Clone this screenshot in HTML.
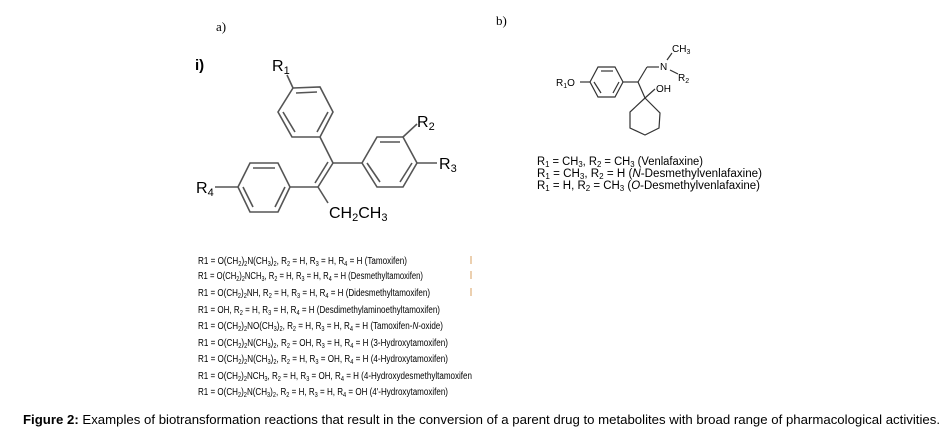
<!DOCTYPE html>
<html><head><meta charset="utf-8"><style>
html,body{margin:0;padding:0;background:#fff;}
svg{display:block;}
text{font-family:"Liberation Sans",Arial,sans-serif;fill:#000;}
</style></head><body>
<svg width="950" height="431" viewBox="0 0 950 431" xmlns="http://www.w3.org/2000/svg">
<text x="216" y="31" style="font-family:'Liberation Serif',serif" font-size="13">a)</text>
<text x="496" y="25" style="font-family:'Liberation Serif',serif" font-size="13">b)</text>
<text x="195" y="70" font-size="15" font-weight="bold">i)</text>

<g stroke="#555" stroke-width="1.6" fill="none">
<polygon points="293,88 320,87 333,112 320,137 292,137 278,112"/>
<line x1="296" y1="93" x2="317" y2="92"/><line x1="328" y1="112" x2="317" y2="132"/><line x1="295" y1="132" x2="283" y2="112"/>
<line x1="287" y1="75" x2="293" y2="88"/>
<line x1="320" y1="137" x2="333" y2="163"/>
<line x1="333" y1="163" x2="318" y2="187"/><line x1="328" y1="162" x2="315" y2="183"/>
<line x1="333" y1="163" x2="362" y2="163"/>
<polygon points="362,163 377,137 403,137 417,163 403,187 377,187"/>
<line x1="380" y1="142" x2="400" y2="142"/><line x1="412" y1="163" x2="400" y2="182"/><line x1="380" y1="182" x2="367" y2="163"/>
<line x1="403" y1="137" x2="417" y2="124"/>
<line x1="417" y1="163" x2="437" y2="163"/>
<line x1="318" y1="187" x2="290" y2="187"/>
<polygon points="238,187 250,163 278,163 290,187 278,212 250,212"/>
<line x1="253" y1="168" x2="275" y2="168"/><line x1="285" y1="187" x2="275" y2="207"/><line x1="253" y1="207" x2="243" y2="187"/>
<line x1="238" y1="187" x2="215" y2="187"/>
<line x1="318" y1="187" x2="328" y2="203"/>
</g>
<text x="272" y="71" font-size="16">R<tspan font-size="11" dy="3">1</tspan></text>
<text x="417" y="127" font-size="16">R<tspan font-size="11" dy="3">2</tspan></text>
<text x="439" y="169" font-size="16">R<tspan font-size="11" dy="3">3</tspan></text>
<text x="196" y="193" font-size="16">R<tspan font-size="11" dy="3">4</tspan></text>
<text x="329" y="218" font-size="16">CH<tspan font-size="11" dy="3">2</tspan><tspan dy="-3">CH</tspan><tspan font-size="11" dy="3">3</tspan></text>

<g stroke="#333" stroke-width="1.2" fill="none">
<polygon points="590,82 598,67 615,67 623,82 615,97 598,97"/>
<line x1="601" y1="71" x2="613" y2="71"/><line x1="619" y1="82" x2="613" y2="93"/><line x1="601" y1="93" x2="594" y2="82"/>
<line x1="580" y1="82" x2="590" y2="82"/>
<line x1="623" y1="82" x2="638" y2="82"/>
<line x1="638" y1="82" x2="647" y2="67"/><line x1="647" y1="67" x2="659" y2="67"/>
<line x1="667" y1="60" x2="672" y2="53"/>
<line x1="670" y1="70" x2="678" y2="74"/>
<line x1="638" y1="82" x2="645" y2="98"/>
<line x1="645" y1="98" x2="655" y2="89"/>
<polygon points="645,98 660,113 659,128 645,135 630,128 630,112"/>
</g>
<text x="672" y="52" font-size="10">CH<tspan font-size="7" dy="2">3</tspan></text>
<text x="660" y="70" font-size="10">N</text>
<text x="678" y="81" font-size="10">R<tspan font-size="7" dy="2">2</tspan></text>
<text x="556" y="86" font-size="10">R<tspan font-size="7" dy="2">1</tspan><tspan dy="-2">O</tspan></text>
<text x="656" y="92" font-size="10">OH</text>
<g font-size="11.5">
<text x="537" y="165" textLength="166" lengthAdjust="spacingAndGlyphs">R<tspan font-size="8" dy="2">1</tspan><tspan dy="-2"> = CH</tspan><tspan font-size="8" dy="2">3</tspan><tspan dy="-2">, R</tspan><tspan font-size="8" dy="2">2</tspan><tspan dy="-2"> = CH</tspan><tspan font-size="8" dy="2">3</tspan><tspan dy="-2"> (Venlafaxine)</tspan></text>
<text x="537" y="177" textLength="225" lengthAdjust="spacingAndGlyphs">R<tspan font-size="8" dy="2">1</tspan><tspan dy="-2"> = CH</tspan><tspan font-size="8" dy="2">3</tspan><tspan dy="-2">, R</tspan><tspan font-size="8" dy="2">2</tspan><tspan dy="-2"> = H (</tspan><tspan font-style="italic">N</tspan>-Desmethylvenlafaxine)</text>
<text x="537" y="189" textLength="223" lengthAdjust="spacingAndGlyphs">R<tspan font-size="8" dy="2">1</tspan><tspan dy="-2"> = H, R</tspan><tspan font-size="8" dy="2">2</tspan><tspan dy="-2"> = CH</tspan><tspan font-size="8" dy="2">3</tspan><tspan dy="-2"> (</tspan><tspan font-style="italic">O</tspan>-Desmethylvenlafaxine)</text>
</g>

<g font-size="10">
<text x="198" y="264" textLength="209" lengthAdjust="spacingAndGlyphs">R1 = O(CH<tspan font-size="7" dy="2">2</tspan><tspan dy="-2">)</tspan><tspan font-size="7" dy="2">2</tspan><tspan dy="-2">N(CH</tspan><tspan font-size="7" dy="2">3</tspan><tspan dy="-2">)</tspan><tspan font-size="7" dy="2">2</tspan><tspan dy="-2">, R</tspan><tspan font-size="7" dy="2">2</tspan><tspan dy="-2"> = H, R</tspan><tspan font-size="7" dy="2">3</tspan><tspan dy="-2"> = H, R</tspan><tspan font-size="7" dy="2">4</tspan><tspan dy="-2"> = H (Tamoxifen)</tspan></text>
<text x="198" y="279" textLength="225" lengthAdjust="spacingAndGlyphs">R1 = O(CH<tspan font-size="7" dy="2">2</tspan><tspan dy="-2">)</tspan><tspan font-size="7" dy="2">2</tspan><tspan dy="-2">NCH</tspan><tspan font-size="7" dy="2">3</tspan><tspan dy="-2">, R</tspan><tspan font-size="7" dy="2">2</tspan><tspan dy="-2"> = H, R</tspan><tspan font-size="7" dy="2">3</tspan><tspan dy="-2"> = H, R</tspan><tspan font-size="7" dy="2">4</tspan><tspan dy="-2"> = H (Desmethyltamoxifen)</tspan></text>
<text x="198" y="296" textLength="232" lengthAdjust="spacingAndGlyphs">R1 = O(CH<tspan font-size="7" dy="2">2</tspan><tspan dy="-2">)</tspan><tspan font-size="7" dy="2">2</tspan><tspan dy="-2">NH, R</tspan><tspan font-size="7" dy="2">2</tspan><tspan dy="-2"> = H, R</tspan><tspan font-size="7" dy="2">3</tspan><tspan dy="-2"> = H, R</tspan><tspan font-size="7" dy="2">4</tspan><tspan dy="-2"> = H (Didesmethyltamoxifen)</tspan></text>
<text x="198" y="313" textLength="242" lengthAdjust="spacingAndGlyphs">R1 = OH, R<tspan font-size="7" dy="2">2</tspan><tspan dy="-2"> = H, R</tspan><tspan font-size="7" dy="2">3</tspan><tspan dy="-2"> = H, R</tspan><tspan font-size="7" dy="2">4</tspan><tspan dy="-2"> = H (Desdimethylaminoethyltamoxifen)</tspan></text>
<text x="198" y="329" textLength="245" lengthAdjust="spacingAndGlyphs">R1 = O(CH<tspan font-size="7" dy="2">2</tspan><tspan dy="-2">)</tspan><tspan font-size="7" dy="2">2</tspan><tspan dy="-2">NO(CH</tspan><tspan font-size="7" dy="2">3</tspan><tspan dy="-2">)</tspan><tspan font-size="7" dy="2">2</tspan><tspan dy="-2">, R</tspan><tspan font-size="7" dy="2">2</tspan><tspan dy="-2"> = H, R</tspan><tspan font-size="7" dy="2">3</tspan><tspan dy="-2"> = H, R</tspan><tspan font-size="7" dy="2">4</tspan><tspan dy="-2"> = H (Tamoxifen-</tspan><tspan font-style="italic">N</tspan>-oxide)</text>
<text x="198" y="346" textLength="250" lengthAdjust="spacingAndGlyphs">R1 = O(CH<tspan font-size="7" dy="2">2</tspan><tspan dy="-2">)</tspan><tspan font-size="7" dy="2">2</tspan><tspan dy="-2">N(CH</tspan><tspan font-size="7" dy="2">3</tspan><tspan dy="-2">)</tspan><tspan font-size="7" dy="2">2</tspan><tspan dy="-2">, R</tspan><tspan font-size="7" dy="2">2</tspan><tspan dy="-2"> = OH, R</tspan><tspan font-size="7" dy="2">3</tspan><tspan dy="-2"> = H, R</tspan><tspan font-size="7" dy="2">4</tspan><tspan dy="-2"> = H (3-Hydroxytamoxifen)</tspan></text>
<text x="198" y="362" textLength="250" lengthAdjust="spacingAndGlyphs">R1 = O(CH<tspan font-size="7" dy="2">2</tspan><tspan dy="-2">)</tspan><tspan font-size="7" dy="2">2</tspan><tspan dy="-2">N(CH</tspan><tspan font-size="7" dy="2">3</tspan><tspan dy="-2">)</tspan><tspan font-size="7" dy="2">2</tspan><tspan dy="-2">, R</tspan><tspan font-size="7" dy="2">2</tspan><tspan dy="-2"> = H, R</tspan><tspan font-size="7" dy="2">3</tspan><tspan dy="-2"> = OH, R</tspan><tspan font-size="7" dy="2">4</tspan><tspan dy="-2"> = H (4-Hydroxytamoxifen)</tspan></text>
<text x="198" y="379" textLength="274" lengthAdjust="spacingAndGlyphs">R1 = O(CH<tspan font-size="7" dy="2">2</tspan><tspan dy="-2">)</tspan><tspan font-size="7" dy="2">2</tspan><tspan dy="-2">NCH</tspan><tspan font-size="7" dy="2">3</tspan><tspan dy="-2">, R</tspan><tspan font-size="7" dy="2">2</tspan><tspan dy="-2"> = H, R</tspan><tspan font-size="7" dy="2">3</tspan><tspan dy="-2"> = OH, R</tspan><tspan font-size="7" dy="2">4</tspan><tspan dy="-2"> = H (4-Hydroxydesmethyltamoxifen</tspan></text>
<text x="198" y="395" textLength="250" lengthAdjust="spacingAndGlyphs">R1 = O(CH<tspan font-size="7" dy="2">2</tspan><tspan dy="-2">)</tspan><tspan font-size="7" dy="2">2</tspan><tspan dy="-2">N(CH</tspan><tspan font-size="7" dy="2">3</tspan><tspan dy="-2">)</tspan><tspan font-size="7" dy="2">2</tspan><tspan dy="-2">, R</tspan><tspan font-size="7" dy="2">2</tspan><tspan dy="-2"> = H, R</tspan><tspan font-size="7" dy="2">3</tspan><tspan dy="-2"> = H, R</tspan><tspan font-size="7" dy="2">4</tspan><tspan dy="-2"> = OH (4'-Hydroxytamoxifen)</tspan></text>
</g>
<g stroke="#d9a060" stroke-width="1"><line x1="471" y1="256" x2="471" y2="264"/><line x1="471" y1="271" x2="471" y2="279"/><line x1="471" y1="288" x2="471" y2="296"/></g>

<text x="23" y="424" font-size="13" textLength="917" lengthAdjust="spacingAndGlyphs"><tspan font-weight="bold">Figure 2:</tspan> Examples of biotransformation reactions that result in the conversion of a parent drug to metabolites with broad range of pharmacological activities.</text>
</svg>
</body></html>
